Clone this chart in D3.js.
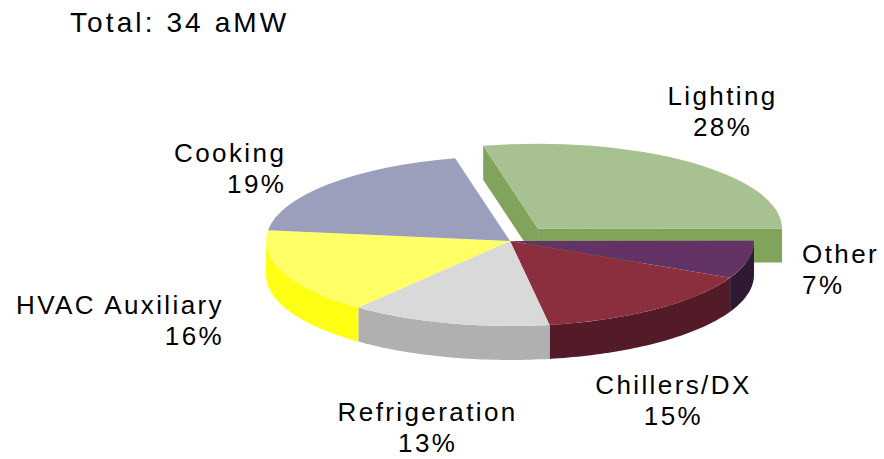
<!DOCTYPE html>
<html>
<head>
<meta charset="utf-8">
<title>Total: 34 aMW</title>
<script src="https://cdnjs.cloudflare.com/ajax/libs/d3/7.8.5/d3.min.js"></script>
<style>
  html, body { margin: 0; padding: 0; background: #fff; }
  svg { display: block; }
  text { font-family: "Liberation Sans", Arial, sans-serif; fill: #000; }
</style>
</head>
<body>
<svg id="chart" width="884" height="459"></svg>
<script>
// end use shares, percent of total
var categories = ['Lighting', 'Other', 'Chillers/DX', 'Refrigeration', 'HVAC Auxiliary', 'Cooking'];
var shares = [28, 7, 15, 13, 16, 19];
var totalLabel = 'Total: 34 aMW';

// excel style colours: top face / side face
var topColors  = ['#a7c290', '#633366', '#8b2e3e', '#d9d9d9', '#ffff66', '#9c9fbb'];
var sideColors = ['#81a35b', '#2f1a33', '#521b27', '#b0b0b0', '#ffff14', '#6b6e8a'];
var explode    = [0.185, 0, 0, 0, 0, 0];

// label tweaks (anchor + nudge from the default spot)
var labelAnchor = ['middle', 'start', 'middle', 'middle', 'end', 'end'];
var labelNudge  = [[8, -20], [15, -34], [-7, 25], [-11, 31], [-23, -2], [-13, 11]];

var svg = d3.select('#chart');

var cx = 510, cy = 241;     // pie centre
var rx = 244, ry = 85;      // ellipse of the tilted pie
var depth = 34;             // thickness
var firstSlice = -13;       // degrees, like excel "angle of first slice"
var rad = Math.PI / 180;

var pie = d3.pie()
  .sort(null)
  .startAngle(firstSlice * rad)
  .endAngle((firstSlice + 360) * rad);

var slices = pie(shares).map(function(s, i) {
  var mid = (s.startAngle + s.endAngle) / 2;
  s.i = i;
  s.mid = mid;
  s.ox = cx + explode[i] * rx * Math.sin(mid);
  s.oy = cy - explode[i] * ry * Math.cos(mid);
  return s;
});

function pt(s, a, dz) {
  return [s.ox + rx * Math.sin(a), s.oy - ry * Math.cos(a) + dz];
}
function arcPts(s, a0, a1, dz) {
  var n = Math.max(2, Math.ceil((a1 - a0) / 0.02));
  return d3.range(n + 1).map(function(k) { return pt(s, a0 + (a1 - a0) * k / n, dz); });
}

var line = d3.line().curve(d3.curveLinear);
var arc = d3.arc().innerRadius(0).outerRadius(rx);

function drawSlice(g, s) {
  var side = sideColors[s.i];
  var prev = slices[(s.i + slices.length - 1) % slices.length];
  var next = slices[(s.i + 1) % slices.length];
  var c0 = [s.ox, s.oy], c1 = [s.ox, s.oy + depth];

  // radial walls only show where there is a gap (exploded slice)
  if ((explode[s.i] || explode[prev.i]) && Math.sin(s.startAngle) < 0) {
    var e = pt(s, s.startAngle, 0), eb = pt(s, s.startAngle, depth);
    g.append('path').attr('d', line([c0, e, eb, c1]) + 'Z').attr('fill', side);
  }
  if ((explode[s.i] || explode[next.i]) && Math.sin(s.endAngle) > 0) {
    var f = pt(s, s.endAngle, 0), fb = pt(s, s.endAngle, depth);
    g.append('path').attr('d', line([c0, f, fb, c1]) + 'Z').attr('fill', side);
  }

  // outer wall, front half only (90..270 deg)
  var a0 = Math.max(s.startAngle, Math.PI / 2);
  var a1 = Math.min(s.endAngle, 3 * Math.PI / 2);
  if (a1 > a0) {
    var pts = arcPts(s, a0, a1, 0).concat(arcPts(s, a0, a1, depth).reverse());
    g.append('path').attr('d', line(pts) + 'Z').attr('fill', side);
  }
}

function drawTop(g, s) {
  g.append('path')
    .attr('d', arc(s))
    .attr('transform', 'translate(' + s.ox + ',' + s.oy + ') scale(1,' + (ry / rx) + ')')
    .attr('fill', topColors[s.i]);
}

// exploded slice sits at the back so paint it first, then the rest
var back = slices.filter(function(s) { return explode[s.i] > 0; });
var rest = slices.filter(function(s) { return !(explode[s.i] > 0); });

var gBack = svg.append('g').attr('class', 'back');
back.forEach(function(s) { drawSlice(gBack, s); drawTop(gBack, s); });

var gWalls = svg.append('g').attr('class', 'walls');
rest.forEach(function(s) { drawSlice(gWalls, s); });
var gTops = svg.append('g').attr('class', 'tops');
rest.forEach(function(s) { drawTop(gTops, s); });

// labels
var lineH = 31;
var labels = svg.append('g').attr('class', 'labels')
  .style('font-size', '26px')
  .style('letter-spacing', '2.4px');

slices.forEach(function(s) {
  var sn = Math.sin(s.mid), cs = Math.cos(s.mid);
  var lx = s.ox + (rx + 40) * sn + labelNudge[s.i][0];
  var ly = s.oy - (ry + 40) * cs + (cs < 0 ? depth : 0) - 6 + labelNudge[s.i][1];
  var t = labels.append('text')
    .attr('text-anchor', labelAnchor[s.i]);
  t.append('tspan').attr('x', lx).attr('y', ly).text(categories[s.i]);
  t.append('tspan').attr('x', lx).attr('y', ly + lineH).text(shares[s.i] + '%');
});

svg.append('text')
  .attr('x', 70)
  .attr('y', 32)
  .style('font-size', '28px')
  .style('letter-spacing', '3.1px')
  .text(totalLabel);
</script>
</body>
</html>
